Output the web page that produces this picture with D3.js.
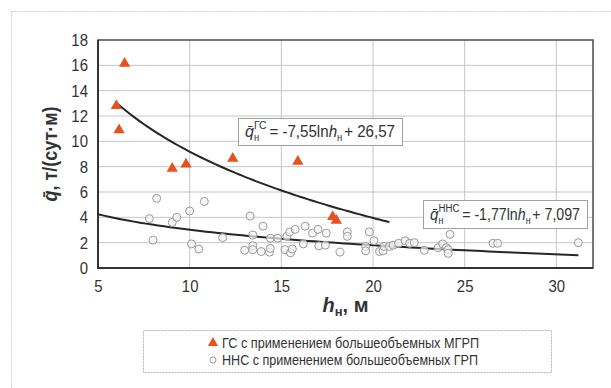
<!DOCTYPE html>
<html>
<head>
<meta charset="utf-8">
<script src="https://cdn.jsdelivr.net/npm/d3@7"></script>
<style>
  body { margin: 0; background: #fff; }
  text { font-family: "Liberation Sans", Arial, sans-serif; fill: #333; }
</style>
</head>
<body>
<script>
// GC wells (triangles)
var gcH = [6.0, 6.15, 6.45, 9.05, 9.8, 12.35, 15.9, 17.8, 18.0];
var gcQ = [12.8, 10.9, 16.15, 7.85, 8.2, 8.65, 8.4, 4.05, 3.75];

// NNS wells (circles)
var nnsH = [7.8, 8.0, 8.2, 9.05, 9.3, 10.0, 10.1, 10.5, 10.8, 11.8,
            13.0, 13.3, 13.45, 13.45, 13.45, 13.9, 14.0, 14.35, 14.4, 14.4,
            14.8, 15.2, 15.3, 15.45, 15.5, 15.6, 15.75, 16.2, 16.3, 16.7,
            17.0, 17.05, 17.4, 17.45, 18.2, 18.6, 18.6,
            19.6, 19.6, 19.8, 20.05, 20.35, 20.55, 20.6, 20.9, 21.1,
            21.4, 21.75, 22.0, 22.25, 22.8, 23.55, 23.8, 24.0, 24.1, 24.1,
            24.2, 26.55, 26.8, 31.2];
var nnsQ = [3.9, 2.2, 5.5, 3.6, 4.0, 4.5, 1.9, 1.5, 5.25, 2.4,
            1.4, 4.1, 2.6, 1.75, 1.45, 1.3, 3.3, 1.25, 1.55, 2.35,
            2.35, 1.45, 2.5, 2.85, 1.2, 1.5, 3.05, 1.9, 3.3, 2.75,
            3.05, 1.75, 1.8, 2.75, 1.25, 2.85, 2.5,
            1.7, 1.35, 2.85, 2.15, 1.3, 1.35, 1.7, 1.7, 1.8,
            1.95, 2.15, 1.95, 2.0, 1.4, 1.6, 1.9, 1.6, 1.45, 1.15,
            2.65, 1.95, 1.95, 2.0];

// trend lines as printed on the chart: q = a*ln(h) + b
var gcTrend = {a: -7.55, b: 26.57, from: 6.0, to: 20.9};
var nnsTrend = {a: -1.77, b: 7.097, from: 5.0, to: 31.2};

var xTicks = [5, 10, 15, 20, 25, 30];
var yTicks = [0, 2, 4, 6, 8, 10, 12, 14, 16, 18];

var legendLabels = ["ГС с применением большеобъемных МГРП", "ННС с применением большеобъемных ГРП"];

var w = 611, h = 388;
var pLeft = 98, pRight = 593, pTop = 40, pBot = 268;

var svg = d3.select("body").append("svg")
  .attr("width", w)
  .attr("height", h);

svg.append("rect").attr("width", w).attr("height", h).attr("fill", "#fff");

// outer light frame
svg.append("rect")
  .attr("x", 11.5).attr("y", 11.5).attr("width", 640).attr("height", 420)
  .attr("fill", "none").attr("stroke", "#c8d2d8").attr("stroke-dasharray", "2,1");

var x = d3.scaleLinear().domain([5, 32]).range([pLeft, pRight]);
var y = d3.scaleLinear().domain([0, 18]).range([pBot, pTop]);

// grid
svg.append("g").selectAll("line").data(xTicks.slice(1)).enter().append("line")
  .attr("x1", function(d) { return x(d); }).attr("x2", function(d) { return x(d); })
  .attr("y1", pTop).attr("y2", pBot)
  .attr("stroke", "#c6c6c6").attr("stroke-width", 1);
svg.append("g").selectAll("line").data(yTicks.slice(1, -1)).enter().append("line")
  .attr("y1", function(d) { return y(d); }).attr("y2", function(d) { return y(d); })
  .attr("x1", pLeft).attr("x2", pRight)
  .attr("stroke", "#c6c6c6").attr("stroke-width", 1);

// frame
svg.append("rect")
  .attr("x", pLeft).attr("y", pTop).attr("width", pRight - pLeft).attr("height", pBot - pTop)
  .attr("fill", "none").attr("stroke", "#555").attr("stroke-width", 1.6);
svg.append("path")
  .attr("d", "M" + pLeft + "," + pTop + "V" + pBot + "H" + pRight)
  .attr("fill", "none").attr("stroke", "#333").attr("stroke-width", 2);

// axes tick labels
var xAxis = d3.axisBottom(x).tickValues(xTicks).tickSize(0).tickPadding(12);
svg.append("g").attr("transform", "translate(0," + pBot + ")").call(xAxis)
  .call(function(g) { g.select(".domain").remove(); })
  .selectAll("text").attr("font-size", 17).attr("fill", "#333")
  .style("font-family", '"Liberation Sans", Arial, sans-serif')
  .attr("transform", "scale(0.88,1)")
  .attr("x", function(d) { return 0; });

var yAxis = d3.axisLeft(y).tickValues(yTicks).tickSize(0).tickPadding(10);
svg.append("g").attr("transform", "translate(" + pLeft + ",0)").call(yAxis)
  .call(function(g) { g.select(".domain").remove(); })
  .selectAll("text").attr("font-size", 17).attr("fill", "#333")
  .style("font-family", '"Liberation Sans", Arial, sans-serif')
  .attr("transform", "scale(0.88,1)").attr("x", -10 / 0.88);

// trend curves
function trendPoints(t) {
  var pts = [];
  var n = 80;
  for (var i = 0; i <= n; i++) {
    var hv = t.from + (t.to - t.from) * i / n;
    pts.push([hv, t.a * Math.log(hv) + t.b]);
  }
  return pts;
}
var line = d3.line().x(function(d) { return x(d[0]); }).y(function(d) { return y(d[1]); });
[gcTrend, nnsTrend].forEach(function(t) {
  svg.append("path").datum(trendPoints(t))
    .attr("d", line).attr("fill", "none")
    .attr("stroke", "#262626").attr("stroke-width", 2);
});

// circles
svg.append("g").selectAll("circle").data(nnsH).enter().append("circle")
  .attr("cx", function(d) { return x(d); })
  .attr("cy", function(d, i) { return y(nnsQ[i]); })
  .attr("r", 4)
  .attr("fill", "#f4f4f4").attr("fill-opacity", 0.7)
  .attr("stroke", "#9a9a9a").attr("stroke-width", 1);

// triangles
var tri = d3.symbol().type(d3.symbolTriangle).size(55);
svg.append("g").selectAll("path").data(gcH).enter().append("path")
  .attr("d", tri)
  .attr("transform", function(d, i) { return "translate(" + x(d) + "," + y(gcQ[i]) + ")"; })
  .attr("fill", "#e8501f");

// equation boxes
function equation(bx, by, bw, bh, sup, rest) {
  svg.append("rect").attr("x", bx + 0.5).attr("y", by + 0.5).attr("width", bw).attr("height", bh)
    .attr("fill", "#fff").attr("stroke", "#a0a0a0").attr("stroke-width", 1);
  var g = svg.append("g");
  var base = bh - 8;
  var cx = 0;
  function piece(txt, size, dy, italic) {
    var t = g.append("text").attr("x", cx).attr("y", base + dy)
      .attr("font-size", size).text(txt);
    if (italic) t.attr("font-style", "italic");
    return t.node().getComputedTextLength();
  }
  cx += piece("q\u0304", 17, 0, true);
  var wSub = piece("н", 10, 4, false);
  var wSup = piece(sup, 11, -8, false);
  cx += Math.max(wSub, wSup) + 3;
  cx += piece("= " + rest[0] + "ln", 16, 0, false);
  cx += piece("h", 16, 0, true);
  cx += piece("н", 10, 4, false) + 2;
  cx += piece("+ " + rest[1], 16, 0, false);
  var sx = (bw - 14) / cx;
  g.attr("transform", "translate(" + (bx + 7) + "," + by + ") scale(" + sx + ",1)");
}
equation(238, 118, 164, 27, "ГС", ["-7,55", "26,57"]);
equation(423, 200, 164, 28, "ННС", ["-1,77", "7,097"]);

// axis titles
var yt = svg.append("text")
  .attr("transform", "translate(57," + ((pTop + pBot) / 2) + ") rotate(-90) scale(0.9,1)")
  .attr("text-anchor", "middle").attr("font-size", 20).attr("font-weight", "bold");
yt.append("tspan").attr("font-style", "italic").text("q\u0304");
yt.append("tspan").text(", т/(сут·м)");

var xt = svg.append("text")
  .attr("x", (pLeft + pRight) / 2).attr("y", 312)
  .attr("text-anchor", "middle").attr("font-size", 20).attr("font-weight", "bold");
xt.append("tspan").attr("font-style", "italic").text("h");
xt.append("tspan").attr("font-size", 13).attr("dy", 4).text("н");
xt.append("tspan").attr("dy", -4).text(", м");

// legend
svg.append("rect").attr("x", 143.5).attr("y", 330.5).attr("width", 408).attr("height", 42)
  .attr("fill", "#fff").attr("stroke", "#b4b4b4").attr("stroke-dasharray", "2,1");
svg.append("path").attr("d", d3.symbol().type(d3.symbolTriangle).size(45))
  .attr("transform", "translate(213,343)").attr("fill", "#e8501f");
svg.append("circle").attr("cx", 213).attr("cy", 360).attr("r", 3)
  .attr("fill", "#fff").attr("stroke", "#9a9a9a");
svg.selectAll(".leg").data(legendLabels).enter().append("text")
  .attr("class", "leg")
  .attr("x", 222).attr("y", function(d, i) { return 348 + i * 17; })
  .attr("font-size", 15).attr("fill", "#444")
  .attr("textLength", function(d, i) { return i === 0 ? 257 : 256; })
  .attr("lengthAdjust", "spacingAndGlyphs")
  .text(function(d) { return d; });
</script>
</body>
</html>
